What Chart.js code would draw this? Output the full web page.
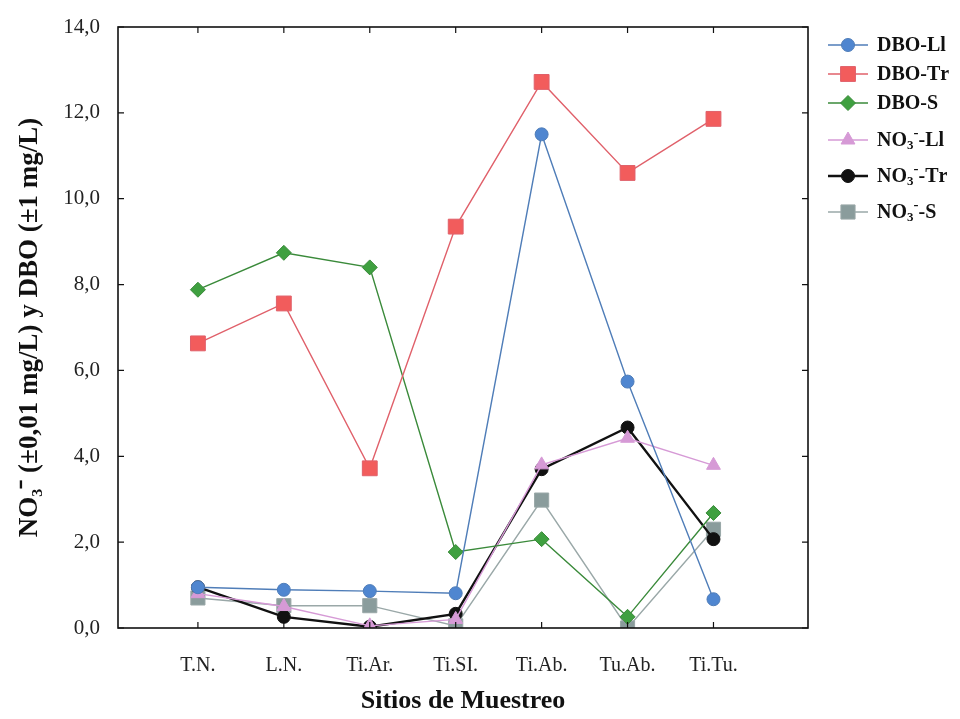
<!DOCTYPE html>
<html>
<head>
<meta charset="utf-8">
<script src="https://cdn.jsdelivr.net/npm/chart.js@4.4.1/dist/chart.umd.min.js"></script>
<style>
  html, body { margin: 0; background: #fff; }
</style>
</head>
<body>
<canvas id="chart" width="960" height="719"></canvas>
<script>
// Sampling sites and values
const sites = ['T.N.', 'L.N.', 'Ti.Ar.', 'Ti.SI.', 'Ti.Ab.', 'Tu.Ab.', 'Ti.Tu.'];
const dboLl = [0.95, 0.89, 0.86, 0.81, 11.50, 5.74, 0.67];
const dboTr = [6.63, 7.56, 3.72, 9.35, 12.72, 10.60, 11.86];
const dboS  = [7.88, 8.74, 8.40, 1.77, 2.07, 0.26, 2.68];
const no3Ll = [0.80, 0.50, 0.05, 0.20, 3.80, 4.42, 3.79];
const no3Tr = [0.95, 0.26, 0.03, 0.33, 3.70, 4.67, 2.07];
const no3S  = [0.70, 0.52, 0.52, 0.05, 2.98, 0.00, 2.30];

const FONT = '"Liberation Serif", "Times New Roman", serif';

const pts = arr => arr.map((y, i) => ({ x: i, y }));

function series(label, data, line, fill, style, radius, width) {
  return {
    label, data: pts(data),
    borderColor: line, borderWidth: width || 1.4,
    pointStyle: style, pointRadius: radius,
    pointBackgroundColor: fill, pointBorderColor: line, pointBorderWidth: 1,
    tension: 0, fill: false
  };
}

const datasets = [
  series('DBO-Ll', dboLl, '#4f7db8', '#4f86d0', 'circle', 6.5),
  series('DBO-Tr', dboTr, '#e0606a', '#f25c5c', 'rect', 10.5),
  series('DBO-S',  dboS,  '#3a8a3a', '#3fa040', 'rectRot', 7.5),
  series('NO₃⁻-Ll', no3Ll, '#d69ad6', '#d69ad6', 'triangle', 8),
  series('NO₃⁻-Tr', no3Tr, '#111111', '#111111', 'circle', 6.5, 2.4),
  series('NO₃⁻-S',  no3S,  '#9aa8a8', '#8a9c9c', 'rect', 10)
];

// draw text where ₃ is a subscript 3 and ⁻ a superscript minus
function richText(ctx, str, x, y, size) {
  let cx = x;
  for (const ch of str) {
    if (ch === '₃') {
      ctx.font = `bold ${size * 0.65}px ${FONT}`;
      ctx.fillText('3', cx, y + size * 0.25);
      cx += ctx.measureText('3').width;
    } else if (ch === '⁻') {
      ctx.font = `bold ${size * 0.75}px ${FONT}`;
      ctx.fillText('-', cx, y - size * 0.38);
      cx += ctx.measureText('-').width;
    } else {
      ctx.font = `bold ${size}px ${FONT}`;
      ctx.fillText(ch, cx, y);
      cx += ctx.measureText(ch).width;
    }
  }
}

// box round the plot, inward ticks on all four sides, and the legend at the right
const framePlugin = {
  id: 'frame',
  afterDraw(chart) {
    const { ctx, chartArea: a, scales } = chart;
    ctx.save();
    ctx.strokeStyle = '#111';
    ctx.lineWidth = 1.6;
    ctx.strokeRect(a.left, a.top, a.right - a.left, a.bottom - a.top);
    ctx.lineWidth = 1.2;
    ctx.beginPath();
    scales.x.ticks.forEach(t => {
      const px = scales.x.getPixelForValue(t.value);
      ctx.moveTo(px, a.bottom); ctx.lineTo(px, a.bottom - 6);
      ctx.moveTo(px, a.top);    ctx.lineTo(px, a.top + 6);
    });
    scales.y.ticks.forEach(t => {
      const py = scales.y.getPixelForValue(t.value);
      ctx.moveTo(a.left, py);  ctx.lineTo(a.left + 6, py);
      ctx.moveTo(a.right, py); ctx.lineTo(a.right - 6, py);
    });
    ctx.stroke();

    // legend
    const rows = [45, 74, 103, 140, 176, 212];
    chart.data.datasets.forEach((ds, i) => {
      const y = rows[i];
      ctx.strokeStyle = ds.borderColor;
      ctx.lineWidth = ds.borderWidth;
      ctx.beginPath();
      ctx.moveTo(828, y); ctx.lineTo(868, y);
      ctx.stroke();
      ctx.fillStyle = ds.pointBackgroundColor;
      ctx.strokeStyle = ds.pointBorderColor;
      ctx.lineWidth = 1;
      Chart.helpers.drawPoint(ctx, {
        pointStyle: ds.pointStyle, radius: ds.pointRadius, rotation: 0, borderWidth: 1
      }, 848, y);
      ctx.fillStyle = '#111';
      ctx.textBaseline = 'middle';
      ctx.textAlign = 'left';
      richText(ctx, ds.label, 877, y + 1, 20);
    });
    ctx.restore();
  }
};

new Chart(document.getElementById('chart'), {
  type: 'line',
  data: { datasets },
  options: {
    responsive: false,
    animation: false,
    layout: { padding: { top: 27, right: 152, bottom: 0, left: 0 } },
    plugins: { legend: { display: false }, tooltip: { enabled: false } },
    scales: {
      x: {
        type: 'linear', min: -0.93, max: 7.1,
        afterBuildTicks: s => { s.ticks = sites.map((_, i) => ({ value: i })); },
        afterFit: s => { s.height = 91; },
        grid: { display: false }, border: { display: false },
        ticks: {
          callback: v => sites[v], autoSkip: false, maxRotation: 0,
          padding: 18, color: '#222', font: { family: FONT, size: 20 }
        },
        title: {
          display: true, text: 'Sitios de Muestreo', color: '#111',
          font: { family: FONT, size: 26, weight: 'bold' }, padding: { top: 0, bottom: 2 }
        }
      },
      y: {
        min: 0, max: 14,
        afterFit: s => { s.width = 118; },
        grid: { display: false }, border: { display: false },
        ticks: {
          stepSize: 2, padding: 10, color: '#222',
          font: { family: FONT, size: 21 },
          callback: v => v.toFixed(1).replace('.', ',')
        },
        title: {
          display: true, text: 'NO₃⁻ (±0,01 mg/L) y DBO (±1 mg/L)', color: '#111',
          font: { family: FONT, size: 27, weight: 'bold' }, padding: { top: 14, bottom: 0 }
        }
      }
    }
  },
  plugins: [framePlugin]
});
</script>
</body>
</html>
